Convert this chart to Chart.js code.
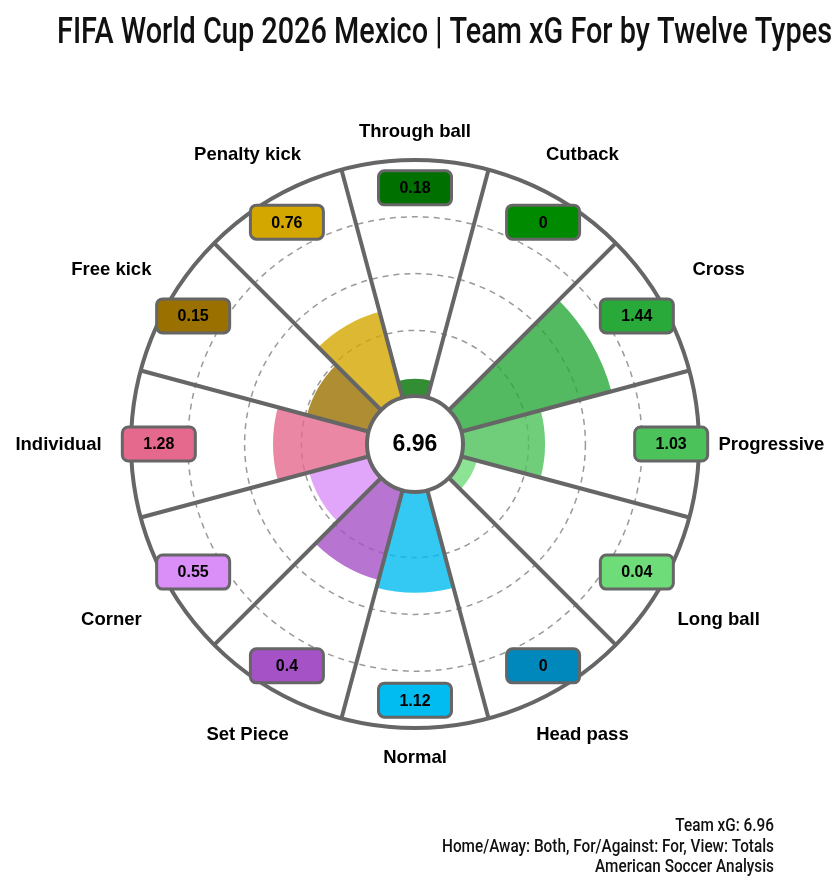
<!DOCTYPE html>
<html>
<head>
<meta charset="utf-8">
<script src="https://cdn.jsdelivr.net/npm/chart.js@4.4.1/dist/chart.umd.min.js"></script>
<style>
  html, body { margin: 0; padding: 0; background: #fff; }
  #wrap { width: 838px; height: 883px; position: relative; }
</style>
</head>
<body>
<div id="wrap"><canvas id="chart"></canvas></div>
<script>
const title = 'FIFA World Cup 2026 Mexico | Team xG For by Twelve Types';
const footer = ['Team xG: 6.96', 'Home/Away: Both, For/Against: For, View: Totals', 'American Soccer Analysis'];
const totalXg = '6.96';

const types = ['Through ball', 'Cutback', 'Cross', 'Progressive', 'Long ball', 'Head pass',
  'Normal', 'Set Piece', 'Corner', 'Individual', 'Free kick', 'Penalty kick'];
const xgValues = [0.18, 0, 1.44, 1.03, 0.04, 0, 1.12, 0.4, 0.55, 1.28, 0.15, 0.76];
// wedge length as drawn in the picture, radial axis units (axis 0-5)
const wedgeLength = [1.15, 0, 3.58, 2.29, 1.13, 0, 2.62, 2.48, 1.93, 2.5, 1.97, 2.41];
const typeColors = ['#007000', '#008a00', '#29a93a', '#4cc25a', '#6edc78', '#0088bc',
  '#00bcf0', '#a552c6', '#da8ef8', '#e5698d', '#9a7000', '#d4a600'];
const radialTicks = [0, 1, 2, 3, 4, 5];
const dashedRings = [2, 3, 4];

const GRAY = '#666666';

function alpha(hex, a) {
  const n = parseInt(hex.slice(1), 16);
  return `rgba(${n >> 16}, ${(n >> 8) & 255}, ${n & 255}, ${a})`;
}

function squeezeText(ctx, text, x, y, width, align) {
  const w = ctx.measureText(text).width;
  ctx.save();
  ctx.translate(x, y);
  ctx.scale(width / w, 1);
  ctx.textAlign = align;
  ctx.fillText(text, 0, 0);
  ctx.restore();
}

const overlay = {
  id: 'overlay',
  afterDatasetsDraw(chart) {
    const ctx = chart.ctx;
    const r = chart.scales.r;
    const arcs = chart.getDatasetMeta(0).data;
    const cx = r.xCenter, cy = r.yCenter;
    const outer = r.getDistanceFromCenterForValue(r.max);

    ctx.save();
    ctx.strokeStyle = GRAY;
    ctx.lineWidth = 4;
    ctx.lineCap = 'butt';

    // sector dividers
    arcs.forEach(a => {
      ctx.beginPath();
      ctx.moveTo(cx, cy);
      ctx.lineTo(cx + outer * Math.cos(a.startAngle), cy + outer * Math.sin(a.startAngle));
      ctx.stroke();
    });

    // outer ring
    ctx.beginPath();
    ctx.arc(cx, cy, outer, 0, Math.PI * 2);
    ctx.stroke();

    // centre disc with total
    const hole = r.getDistanceFromCenterForValue(0.845);
    ctx.beginPath();
    ctx.arc(cx, cy, hole, 0, Math.PI * 2);
    ctx.fillStyle = '#fff';
    ctx.fill();
    ctx.stroke();
    ctx.fillStyle = '#000';
    ctx.font = 'bold 23px "Liberation Sans", Arial, sans-serif';
    ctx.textAlign = 'center';
    ctx.textBaseline = 'middle';
    ctx.fillText(totalXg, cx, cy + 1);

    // value boxes and category labels
    const boxR = r.getDistanceFromCenterForValue(4.51);
    arcs.forEach((a, i) => {
      const m = (a.startAngle + a.endAngle) / 2;
      const c = Math.cos(m), s = Math.sin(m);
      const bx = cx + boxR * c, by = cy + boxR * s;
      const bw = 73, bh = 34;
      ctx.beginPath();
      ctx.roundRect(bx - bw / 2, by - bh / 2, bw, bh, 6);
      ctx.fillStyle = typeColors[i];
      ctx.fill();
      ctx.lineWidth = 3;
      ctx.strokeStyle = GRAY;
      ctx.stroke();
      ctx.fillStyle = '#000';
      ctx.font = 'bold 16px "Liberation Sans", Arial, sans-serif';
      ctx.fillText(String(xgValues[i]), bx, by + 1);

      const lr = outer * (1.103 + 0.152 * Math.abs(c));
      ctx.font = 'bold 18.5px "Liberation Sans", Arial, sans-serif';
      ctx.fillText(types[i], cx + lr * c, cy + lr * s + 1);
    });
    ctx.restore();
  },
  afterDraw(chart) {
    const ctx = chart.ctx;
    ctx.save();
    ctx.fillStyle = '#111';
    ctx.textBaseline = 'alphabetic';
    ctx.font = '500 36px "Liberation Sans Narrow", Roboto, "Liberation Sans", sans-serif';
    squeezeText(ctx, title, 57, 43, 775, 'left');

    ctx.fillStyle = '#111';
    ctx.font = '500 17.5px "Liberation Sans Narrow", Roboto, "Liberation Sans", sans-serif';
    const k = 332 / ctx.measureText(footer[1]).width;
    footer.forEach((line, i) => {
      const w = ctx.measureText(line).width * k;
      squeezeText(ctx, line, 774, 831 + i * 20.5, w, 'right');
    });
    ctx.restore();
  }
};

new Chart(document.getElementById('chart'), {
  type: 'polarArea',
  data: {
    labels: types,
    datasets: [{
      data: wedgeLength,
      backgroundColor: typeColors.map(c => alpha(c, 0.8)),
      borderWidth: 0
    }]
  },
  options: {
    responsive: true,
    maintainAspectRatio: false,
    animation: false,
    layout: { padding: { left: 131, right: 139, top: 160, bottom: 155 } },
    scales: {
      r: {
        min: 0,
        max: 5,
        startAngle: -15,
        afterBuildTicks: s => { s.ticks = radialTicks.map(v => ({ value: v })); },
        ticks: { display: false },
        pointLabels: { display: false },
        angleLines: { display: false },
        grid: {
          circular: true,
          color: c => (c.tick && dashedRings.includes(c.tick.value)) ? '#9a9a9a' : 'rgba(0,0,0,0)',
          lineWidth: 1.5
        },
        border: { dash: [6, 5] }
      }
    },
    plugins: {
      legend: { display: false },
      tooltip: { enabled: false }
    }
  },
  plugins: [overlay]
});
</script>
</body>
</html>
